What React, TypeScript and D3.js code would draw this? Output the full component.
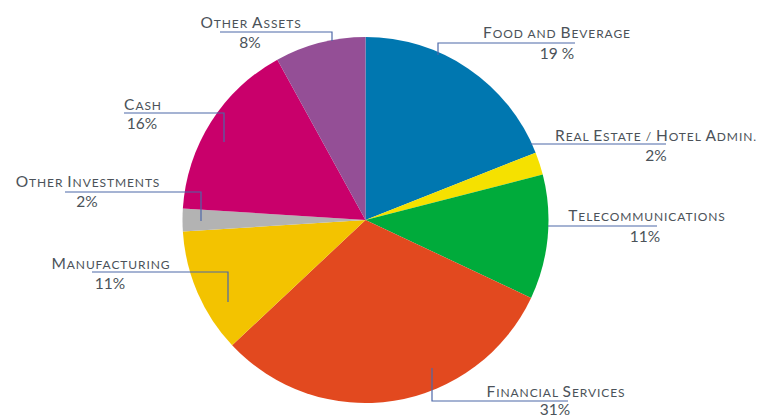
import React from "react";
import * as d3 from "d3";

const categories = [
  "Food and Beverage",
  "Real Estate / Hotel Admin.",
  "Telecommunications",
  "Financial Services",
  "Manufacturing",
  "Other Investments",
  "Cash",
  "Other Assets",
];
const values = [19, 2, 11, 31, 11, 2, 16, 8];
const pctLabels = ["19 %", "2%", "11%", "31%", "11%", "2%", "16%", "8%"];
const colors = ["#0077b0", "#f5e100", "#00ab3b", "#e2491f", "#f3c300", "#b3b3b3", "#c9006b", "#944f96"];

// label layout: name center/baseline, pct center/baseline, leader polyline
const layout = [
  { nx: 557, ny: 38, px: 557, py: 59, leader: [[575, 43], [438, 43], [438, 55]] },
  { nx: 656, ny: 141, px: 656, py: 161, leader: [[666, 144], [530, 144]] },
  { nx: 647, ny: 221, px: 645, py: 242, leader: [[657, 226], [548, 226]] },
  { nx: 556, ny: 397, px: 555, py: 415, leader: [[568, 401], [432, 401], [432, 368]] },
  { nx: 111, ny: 269, px: 110, py: 289, leader: [[92, 272], [228, 272], [228, 302]] },
  { nx: 88, ny: 187, px: 87, py: 207, leader: [[65, 192], [201, 192], [201, 221]] },
  { nx: 143, ny: 110, px: 142, py: 129, leader: [[124, 113], [224, 113], [224, 142]] },
  { nx: 251, ny: 28, px: 250, py: 48, leader: [[220, 32], [332, 32], [332, 41]] },
];

const W = 764;
const H = 418;
const cx = 365.5;
const cy = 220;
const R = 183;
const font = "Lato, 'Open Sans', sans-serif";

function SmallCaps({ text }: { text: string }) {
  const chars = Array.from(text);
  return (
    <>
      {chars.map((ch, k) => {
        const isUpper = ch !== ch.toLowerCase();
        return (
          <tspan key={k} fontSize={isUpper ? 15.5 : 12}>
            {ch.toUpperCase()}
          </tspan>
        );
      })}
    </>
  );
}

export default function App() {
  const data = categories.map((c, i) => ({ c, v: values[i], i }));
  const pie = d3.pie<any>().value((d) => d.v).sort(null);
  const arcs = pie(data);
  const arc = d3.arc<any>().innerRadius(0).outerRadius(R);
  const line = d3.line();
  return (
    <svg width={W} height={H} style={{ position: "absolute", left: 0, top: 0, background: "#fff" }}>
      <g transform={`translate(${cx},${cy})`}>
        {arcs.map((a, i) => (
          <path key={i} d={arc(a) as string} fill={colors[i]} />
        ))}
      </g>
      {layout.map((l, i) => (
        <g key={i}>
          <path d={line(l.leader as any) as string} fill="none" stroke="#4d68a8" strokeWidth={1.2} />
          <text
            x={l.nx}
            y={l.ny}
            textAnchor="middle"
            fontFamily={font}
            fill="#4b5259"
            style={{ letterSpacing: "0.9px" }}
          >
            <SmallCaps text={categories[i]} />
          </text>
          <text x={l.px} y={l.py} textAnchor="middle" fontFamily={font} fontSize={15.5} fill="#4b5259">
            {pctLabels[i]}
          </text>
        </g>
      ))}
    </svg>
  );
}
